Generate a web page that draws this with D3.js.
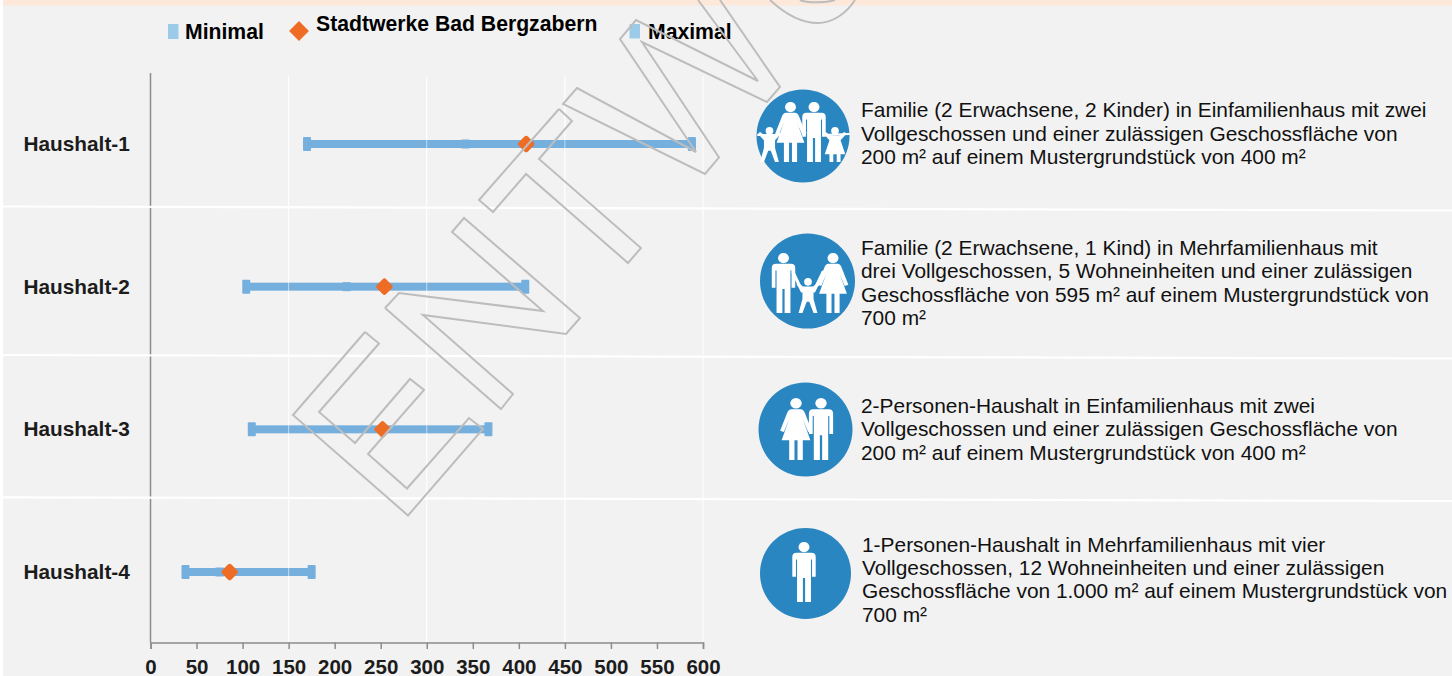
<!DOCTYPE html>
<html>
<head>
<meta charset="utf-8">
<script src="https://cdn.jsdelivr.net/npm/d3@7"></script>
<style>
    html, body { margin: 0; padding: 0; background: #f2f2f2; overflow: hidden; }
    svg { display: block; font-family: "Liberation Sans", Arial, sans-serif; }
    .axis text { font-size: 20.5px; font-weight: bold; fill: #1c1c1c; font-family: "Liberation Sans", Arial, sans-serif; }
    .axis path, .axis line { stroke: #8c8c8c; stroke-width: 1.5px; }
</style>
</head>
<body>
<div id="chart"></div>
<script>
// Data
var households = ["Haushalt-1", "Haushalt-2", "Haushalt-3", "Haushalt-4"];
var minValues = [170, 104, 110, 38];
var maxValues = [588, 407, 367, 175];
var companyValues = [408, 254, 252, 86];
var midValues = [342, 213, null, 75];
var xTicks = [0, 50, 100, 150, 200, 250, 300, 350, 400, 450, 500, 550, 600];
var gridValues = [150, 300, 450, 600];
var legendLabels = ["Minimal", "Stadtwerke Bad Bergzabern", "Maximal"];
var descriptions = [
    ["Familie (2 Erwachsene, 2 Kinder) in Einfamilienhaus mit zwei",
     "Vollgeschossen und einer zulässigen Geschossfläche von",
     "200 m² auf einem Mustergrundstück von 400 m²"],
    ["Familie (2 Erwachsene, 1 Kind) in Mehrfamilienhaus mit",
     "drei Vollgeschossen, 5 Wohneinheiten und einer zulässigen",
     "Geschossfläche von 595 m² auf einem Mustergrundstück von",
     "700 m²"],
    ["2-Personen-Haushalt in Einfamilienhaus mit zwei",
     "Vollgeschossen und einer zulässigen Geschossfläche von",
     "200 m² auf einem Mustergrundstück von 400 m²"],
    ["1-Personen-Haushalt in Mehrfamilienhaus mit vier",
     "Vollgeschossen, 12 Wohneinheiten und einer zulässigen",
     "Geschossfläche von 1.000 m² auf einem Mustergrundstück von",
     "700 m²"]
];

var width = 1452, height = 676;
var barColor = "#75afdd", legendColor = "#9ccbea", orange = "#ef6c25", iconBlue = "#2a86c0";

var svg = d3.select("#chart").append("svg")
    .attr("width", width)
    .attr("height", height);

svg.append("rect").attr("width", width).attr("height", 676).attr("fill", "#f2f2f2");
svg.append("rect").attr("width", width).attr("height", 5.5).attr("fill", "#fde8d9");
svg.append("rect").attr("width", 3).attr("height", height).attr("fill", "#ffffff");

var x = d3.scaleLinear().domain([0, 600]).range([150.5, 703]);
var y = d3.scalePoint().domain(households).range([144, 572]);

// grid
svg.selectAll(".grid").data(gridValues).enter().append("line")
    .attr("class", "grid")
    .attr("x1", function(d) { return x(d); })
    .attr("x2", function(d) { return x(d); })
    .attr("y1", 76).attr("y2", 642)
    .attr("stroke", "#ffffff").attr("stroke-width", 1);

// axes
var xAxis = d3.axisBottom(x).tickValues(xTicks).tickSize(6.5);
var xAxisGroup = svg.append("g")
    .attr("class", "axis x-axis")
    .attr("transform", "translate(0,642.5)")
    .call(xAxis);
xAxisGroup.selectAll("text").attr("y", 17).attr("dy", "0.71em");

svg.append("line")
    .attr("x1", 150.5).attr("x2", 150.5).attr("y1", 73).attr("y2", 642.5)
    .attr("stroke", "#8c8c8c").attr("stroke-width", 1.5);

svg.selectAll(".row-label").data(households).enter().append("text")
    .attr("class", "row-label")
    .attr("x", 23.5)
    .attr("y", function(d) { return y(d) + 7; })
    .attr("font-size", 20.8).attr("font-weight", "bold").attr("fill", "#1c1c1c")
    .text(function(d) { return d; });

// row separators, slightly slanted like the original
var separators = [[206.5, 210.5], [355, 358.5], [497.3, 501]];
svg.selectAll(".sep").data(separators).enter().append("line")
    .attr("class", "sep")
    .attr("x1", 3).attr("x2", width)
    .attr("y1", function(d) { return d[0]; })
    .attr("y2", function(d) { return d[1]; })
    .attr("stroke", "#ffffff").attr("stroke-width", 2.2);

// range bars
var rows = households.map(function(h, i) {
    return {name: h, min: minValues[i], max: maxValues[i], company: companyValues[i], mid: midValues[i]};
});

svg.selectAll(".bar").data(rows).enter().append("rect")
    .attr("class", "bar")
    .attr("x", function(d) { return x(d.min); })
    .attr("y", function(d) { return y(d.name) - 4; })
    .attr("width", function(d) { return x(d.max) - x(d.min); })
    .attr("height", 8)
    .attr("fill", barColor);

// the white grid shows faintly through the bars
svg.selectAll(".grid-over").data(gridValues.slice(0, 3)).enter().append("line")
    .attr("class", "grid-over")
    .attr("x1", function(d) { return x(d); })
    .attr("x2", function(d) { return x(d); })
    .attr("y1", 76).attr("y2", 642)
    .attr("stroke", "#ffffff").attr("stroke-width", 1).attr("stroke-opacity", 0.55);

svg.selectAll(".cap-min").data(rows).enter().append("rect")
    .attr("class", "cap-min")
    .attr("x", function(d) { return x(d.min) - 4; })
    .attr("y", function(d) { return y(d.name) - 7; })
    .attr("width", 8).attr("height", 14).attr("rx", 1)
    .attr("fill", barColor);

svg.selectAll(".cap-max").data(rows).enter().append("rect")
    .attr("class", "cap-max")
    .attr("x", function(d) { return x(d.max) - 4; })
    .attr("y", function(d) { return y(d.name) - 7; })
    .attr("width", 8).attr("height", 14).attr("rx", 1)
    .attr("fill", barColor);

svg.selectAll(".mid").data(rows.filter(function(d) { return d.mid !== null; })).enter().append("rect")
    .attr("class", "mid")
    .attr("x", function(d) { return x(d.mid) - 4; })
    .attr("y", function(d) { return y(d.name) - 4.5; })
    .attr("width", 8).attr("height", 9)
    .attr("fill", barColor);

svg.selectAll(".company").data(rows).enter().append("rect")
    .attr("class", "company")
    .attr("x", -6.5).attr("y", -6.5)
    .attr("width", 13).attr("height", 13).attr("rx", 2.5)
    .attr("fill", orange)
    .attr("transform", function(d) { return "translate(" + x(d.company) + "," + y(d.name) + ") rotate(45)"; });

// legend
svg.append("rect").attr("x", 168).attr("y", 24).attr("width", 10.5).attr("height", 15).attr("fill", legendColor);
svg.append("rect").attr("x", 629.5).attr("y", 24).attr("width", 10.5).attr("height", 14.5).attr("fill", legendColor);
svg.append("rect").attr("x", -7).attr("y", -7).attr("width", 14).attr("height", 14)
    .attr("fill", orange)
    .attr("transform", "translate(299,31) rotate(45)");

var legendX = [185, 316, 648], legendY = [39, 31, 39];
svg.selectAll(".legend-label").data(legendLabels).enter().append("text")
    .attr("class", "legend-label")
    .attr("x", function(d, i) { return legendX[i]; })
    .attr("y", function(d, i) { return legendY[i]; })
    .attr("font-size", 21.2).attr("font-weight", "bold").attr("fill", "#000000")
    .text(function(d) { return d; });

// descriptions
var descX = [861, 861, 861, 862], descY = [117.3, 255, 413, 551.7];
descriptions.forEach(function(lines, i) {
    svg.selectAll(".desc-" + i).data(lines).enter().append("text")
        .attr("class", "desc-" + i)
        .attr("x", descX[i])
        .attr("y", function(d, j) { return descY[i] + j * 23.3; })
        .attr("font-size", 20.9).attr("fill", "#111111")
        .text(function(d) { return d; });
});

// icons
var figurePaths = {
    man: "M-10,18 L10,18 Q16,18 16,25 L16,58 L11,58 L11,29 L9.5,29 L9.5,100 L1.5,100 L1.5,60 L-1.5,60 L-1.5,100 L-9.5,100 L-9.5,29 L-11,29 L-11,58 L-16,58 L-16,25 Q-16,18 -10,18 Z",
    woman: "M-6,18 L6,18 Q10,18 12,25 L21,53 L16,55 L9,34 L19,68 L9,68 L9,100 L2,100 L2,68 L-2,68 L-2,100 L-9,100 L-9,68 L-19,68 L-9,34 L-16,55 L-21,53 L-12,25 Q-10,18 -6,18 Z",
    boy: "M-12,24 L12,24 L22,14 L27,19 L13,38 L13,60 L22,100 L13,100 L3,68 L-3,68 L-13,100 L-22,100 L-13,60 L-13,38 L-27,19 L-22,14 Z",
    girl: "M-10,24 L10,24 L22,14 L27,19 L13,38 L24,78 L13,78 L13,100 L4,100 L4,78 L-4,78 L-4,100 L-13,100 L-13,78 L-24,78 L-13,38 L-27,19 L-22,14 Z"
};

function drawCircle(cx, cy, r) {
    svg.append("circle").attr("cx", cx).attr("cy", cy).attr("r", r).attr("fill", iconBlue);
}

function drawFigure(kind, cx, top, h) {
    var s = h / 100;
    var g = svg.append("g").attr("transform", "translate(" + cx + "," + top + ") scale(" + (s * 1.22) + "," + s + ")");
    var child = kind == "boy" || kind == "girl";
    g.append("ellipse").attr("cx", 0).attr("cy", child ? 11 : 8.5)
        .attr("rx", child ? 9 : 7.5).attr("ry", child ? 11 : 8.5).attr("fill", "#ffffff");
    g.append("path").attr("d", figurePaths[kind]).attr("fill", "#ffffff");
}

function drawLink(x1, y1, x2, y2, w) {
    svg.append("line")
        .attr("x1", x1).attr("y1", y1).attr("x2", x2).attr("y2", y2)
        .attr("stroke", "#ffffff").attr("stroke-width", w).attr("stroke-linecap", "round");
}

drawCircle(803, 136, 46.5);
drawFigure("woman", 790.5, 102, 60);
drawFigure("man", 814, 102, 60);
drawFigure("boy", 769.5, 127, 35);
drawFigure("girl", 835, 127, 35);
drawLink(758, 135, 782, 135, 2);
drawLink(824, 135, 849, 134, 2);
drawLink(799, 125, 805, 133, 2.5);

drawCircle(807.5, 281, 47.5);
drawFigure("man", 783.5, 253, 60);
drawFigure("woman", 833, 253, 60);
drawFigure("boy", 808, 278, 35);
drawLink(793, 272, 802, 291, 3);
drawLink(823, 272, 814, 291, 3);

drawCircle(805.5, 429.5, 47);
drawFigure("woman", 796, 398, 62);
drawFigure("man", 821, 398, 62);

drawCircle(805.5, 573.5, 45.5);
drawFigure("man", 804, 542, 60);

// watermark outline, letters of the diagonal stamp
var watermark = [
    [[365,332],[379,343.5],[319,412],[355,443],[410,379],[424,390],[368,454],[407,488.5],[469,418],[483,429],[408,515.5],[293,415],[365,332]],
    [[385,308],[399,293],[543,311],[452,232],[464,218],[580,318],[566,334],[423,315],[513,394],[501,409],[385,308]],
    [[559,109],[572,121],[539,159],[641,248],[628,263],[526,174],[493,212],[479,200],[559,109]],
    [[720,0],[780,87],[767,102],[642,42],[719,157.5],[705,174],[563,104],[577,88],[696,152],[620,39],[636,20],[758,81],[698,0]]
];
var wmLine = d3.line();
svg.selectAll(".wm").data(watermark).enter().append("path")
    .attr("class", "wm")
    .attr("d", function(d) { return wmLine(d); })
    .attr("fill", "none").attr("stroke", "#bdbdbd").attr("stroke-width", 2);

// bottom of the next letter, cut by the page top
var arcs = [
    "M770,0 C785,14 800,23 818,23 C832,23 846,14 855,0",
    "M800,0 C806,3 826,3 835,0"
];
svg.selectAll(".wm-arc").data(arcs).enter().append("path")
    .attr("class", "wm-arc")
    .attr("d", function(d) { return d; })
    .attr("fill", "none").attr("stroke", "#bdbdbd").attr("stroke-width", 2);
</script>
</body>
</html>
